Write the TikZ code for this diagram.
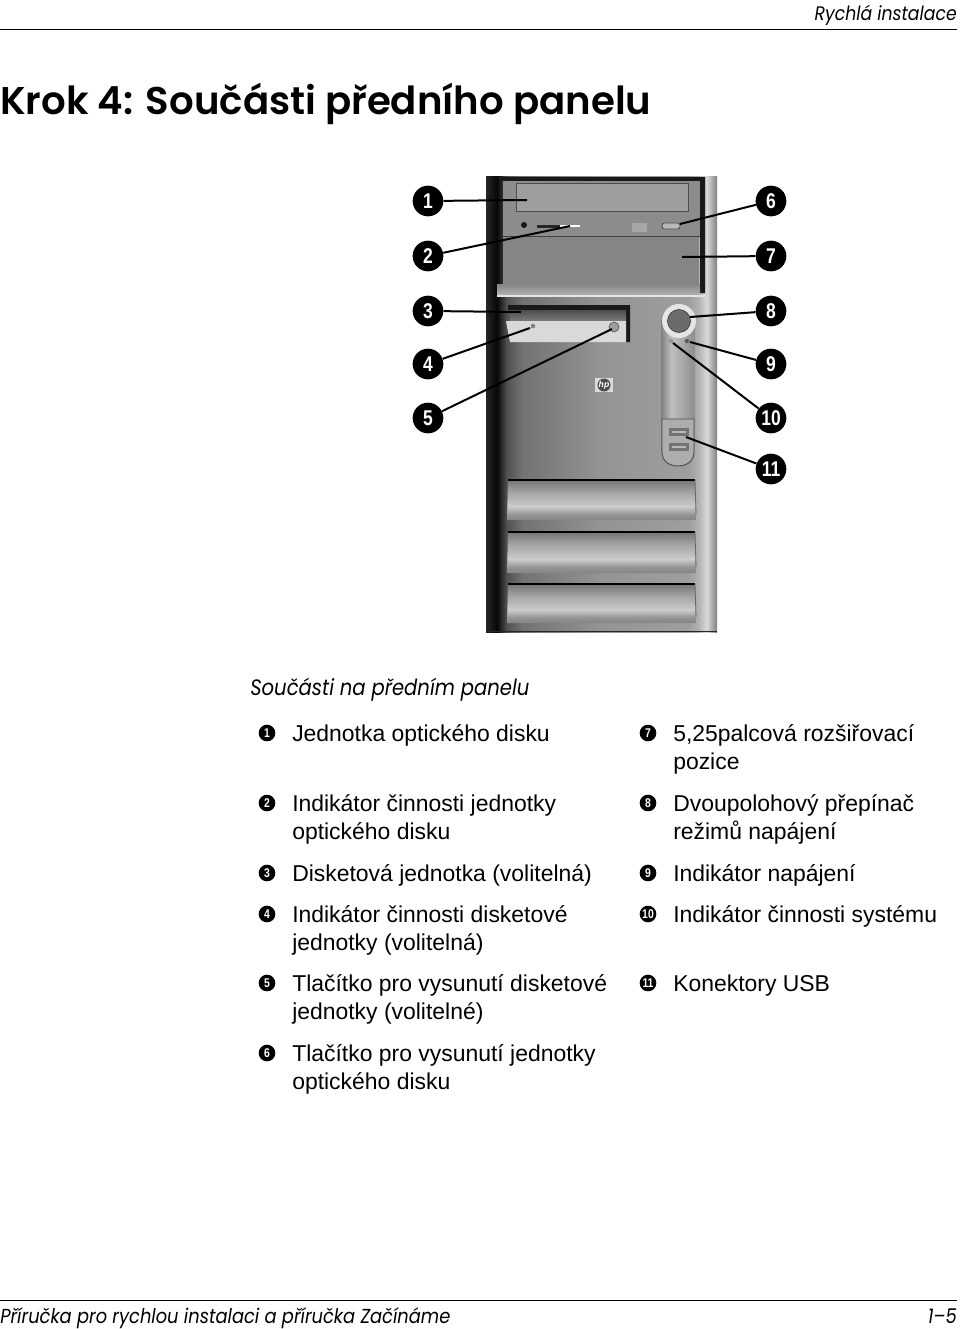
\documentclass[tikz,border=0pt]{standalone}
\usepackage{fontspec}
\setmainfont{Liberation Sans}
\newfontfamily\headfont{Poppins SemiBold}
\newfontfamily\italfont[FakeStretch=0.88]{Poppins}
\newfontfamily\numfont[FakeStretch=0.82]{Liberation Sans}
\pgfdeclarehorizontalshading{caseshade}{100bp}{color(0bp)=(black!85); color(25bp)=(black!85); color(27.4bp)=(black!97); color(29.5bp)=(black!68); color(33bp)=(black!55); color(50bp)=(black!42); color(69bp)=(black!38); color(71bp)=(black!30); color(72.8bp)=(black!15); color(75bp)=(black!50); color(100bp)=(black!50)}
\pgfdeclareverticalshading{ventshade}{100bp}{color(0bp)=(black!48); color(25bp)=(black!48); color(32bp)=(black!42); color(42bp)=(black!20); color(60bp)=(black!36); color(73bp)=(black!52); color(75bp)=(black!52); color(100bp)=(black!52)}
\pgfdeclarehorizontalshading{panelshade}{100bp}{color(0bp)=(black!50); color(25bp)=(black!50); color(40bp)=(black!25); color(58bp)=(black!35); color(75bp)=(black!45); color(100bp)=(black!45)}
\tikzset{
  x=0.75pt,y=-0.75pt,
  callout/.style={circle,fill=black,text=white,minimum size=23pt,inner sep=0pt,font=\numfont\bfseries\fontsize{16}{16}\selectfont},
  calline/.style={draw=black,line width=1.5pt},
  legnum/.style={circle,fill=black,text=white,minimum size=12.5pt,inner sep=0pt,font=\numfont\bfseries\fontsize{9.5}{10}\selectfont},
  legtext/.style={anchor=north west,inner sep=0pt,align=left,font=\fontsize{17.2}{21}\selectfont},
  rulefine/.style={draw=black,line width=0.6pt},
  ital/.style={inner sep=0pt,font=\italfont\itshape\fontsize{14.7}{18}\selectfont},
}
\newcommand{\legitem}[5]{%
  \node[legnum] (n#1) at (#2,#3) {#4};
  \node[legtext] (t#1) at (#2+25,#3-11.6) {\strut #5};
}
\begin{document}
\begin{tikzpicture}
\useasboundingbox (0,0) rectangle (960,1329);
\fill[white] (0,0) rectangle (960,1329);

% header
\coordinate (hl) at (0,29); \coordinate (hr) at (957,29);
\draw[rulefine] (hl) -- (hr);
\node[ital,anchor=base east] (head) at (957,20) {Rychlá instalace};
\node[anchor=base west,inner sep=0pt,font=\headfont\fontsize{29}{34}\selectfont] (title) at (0,114) {Krok 4: Součásti předního panelu};

% computer case
\shade[shading=caseshade] (486,176) rectangle (717,632);
\draw[black!85,line width=1pt] (486,631.5) -- (717,631.5);
% optical bays
\fill[black!90] (497,177) -- (705,177) -- (705,293) -- (700,293) -- (700,181) -- (503,181) -- cycle;
\fill[black!45] (503,181) rectangle (700,236);
\fill[black!75] (503,235.5) rectangle (700,237);
\fill[black!48] (503,237) rectangle (699,292);
\shade[top color=black!48,bottom color=black!30] (497,284) rectangle (700,295);
\fill[black!10] (497,295) rectangle (705,297);
\fill[black!38,draw=black!70,line width=.7pt] (516,183) rectangle (688,211);
\fill[black!90] (524,225) circle (3);
\fill[black!85] (537,224.5) rectangle (560,228);
\fill[white] (560,225) rectangle (580,227);
\fill[black!35] (632,223) rectangle (647,232);
\fill[black!28,draw=black!70,line width=.6pt,rounded corners=2pt] (662,223) rectangle (680,229);
% floppy
\fill[black!90] (508,305) -- (630,305) -- (630,342) -- (626,342) -- (626,310) -- (508,310) -- cycle;
\shade[top color=black!70,bottom color=black!50] (510,310) rectangle (626,322);
\fill[black!15] (506,321) -- (626,321) -- (626,342) -- (510,342) -- cycle;
\fill[black!50] (533,326) circle (2.3);
\fill[black!38,draw=black!65,line width=.5pt] (614,327) circle (5);
% hp logo
\fill[black!15] (595,378) rectangle (613,392);
\fill[black!70] (604,385) circle (6.5);
\node[inner sep=0pt,font=\itshape\bfseries\fontsize{6.5}{8}\selectfont,text=white] (hp) at (604,385) {hp};
% power strip
\shade[shading=panelshade,rounded corners=14pt] (661,304) rectangle (695,466);
\fill[black!10] (679,321) circle (17);
\fill[black!58,draw=black!75,line width=.5pt] (679,321) circle (11.5);
\fill[black!42] (671,341) circle (2.2);
\fill[black!65] (687,341) circle (2.2);
% USB door
\path[fill=black!32,draw=black!70,line width=.7pt] (662,419) -- (694,419) -- (694,452) .. controls (694,461) and (687,466) .. (678,466) .. controls (669,466) and (662,461) .. (662,452) -- cycle;
\fill[black!55] (669,428) rectangle (689,436);
\fill[black!28] (672,431) rectangle (686,433);
\fill[black!55] (669,443) rectangle (689,451);
\fill[black!28] (672,446) rectangle (686,448);
% vents
\foreach \t/\b in {480/520,532/573,584/623}{
  \shade[shading=ventshade] (508,\t) -- (695,\t) -- (696,\b) -- (507,\b) -- cycle;
  \draw[black,line width=1.2pt] (508,\t) -- (695,\t);
  \draw[black!60,line width=.6pt] (695,\t) -- (696,\b-6);
}

% callouts
\node[callout] (c1) at (428,201) {1};
\node[callout] (c2) at (428,256) {2};
\node[callout] (c3) at (428,311) {3};
\node[callout] (c4) at (428,364) {4};
\node[callout] (c5) at (428,418) {5};
\node[callout] (c6) at (771,201) {6};
\node[callout] (c7) at (771,256) {7};
\node[callout] (c8) at (771,311) {8};
\node[callout] (c9) at (771,364) {9};
\node[callout] (c10) at (771,418) {10};
\node[callout] (c11) at (771,469) {11};
\coordinate (e1) at (527,200);
\coordinate (e2) at (570,226);
\coordinate (e3) at (521,312);
\coordinate (e4) at (530,328);
\coordinate (e5) at (612,329);
\coordinate (e6) at (680,224);
\coordinate (e7) at (682,257);
\coordinate (e8) at (690,317);
\coordinate (e9) at (690,342);
\coordinate (e10) at (673,343);
\coordinate (e11) at (686,437);
\foreach \i in {1,...,11}{\draw[calline] (c\i) -- (e\i);}

% legend
\node[ital,anchor=base west,font=\italfont\itshape\fontsize{16.7}{18}\selectfont] (legtitle) at (250,695) {Součásti na předním panelu};
\legitem{1}{267}{733}{1}{Jednotka optického disku}
\legitem{2}{267}{803}{2}{Indikátor činnosti jednotky\\optického disku}
\legitem{3}{267}{873}{3}{Disketová jednotka (volitelná)}
\legitem{4}{267}{914}{4}{Indikátor činnosti disketové\\jednotky (volitelná)}
\legitem{5}{267}{983}{5}{Tlačítko pro vysunutí disketové\\jednotky (volitelné)}
\legitem{6}{267}{1053}{6}{Tlačítko pro vysunutí jednotky\\optického disku}
\legitem{7}{648}{733}{7}{5,25palcová rozšiřovací\\pozice}
\legitem{8}{648}{803}{8}{Dvoupolohový přepínač\\režimů napájení}
\legitem{9}{648}{873}{9}{Indikátor napájení}
\legitem{10}{648}{914}{10}{Indikátor činnosti systému}
\legitem{11}{648}{983}{11}{Konektory USB}

% footer
\coordinate (fl) at (0,1300); \coordinate (fr) at (957,1300);
\draw[rulefine] (fl) -- (fr);
\node[ital,anchor=base west,font=\italfont\itshape\fontsize{15.2}{18}\selectfont] (foot) at (0,1323) {Příručka pro rychlou instalaci a příručka Začínáme};
\node[ital,anchor=base east,font=\italfont\itshape\fontsize{15.2}{18}\selectfont] (page) at (957,1323) {1–5};
\end{tikzpicture}
\end{document}
